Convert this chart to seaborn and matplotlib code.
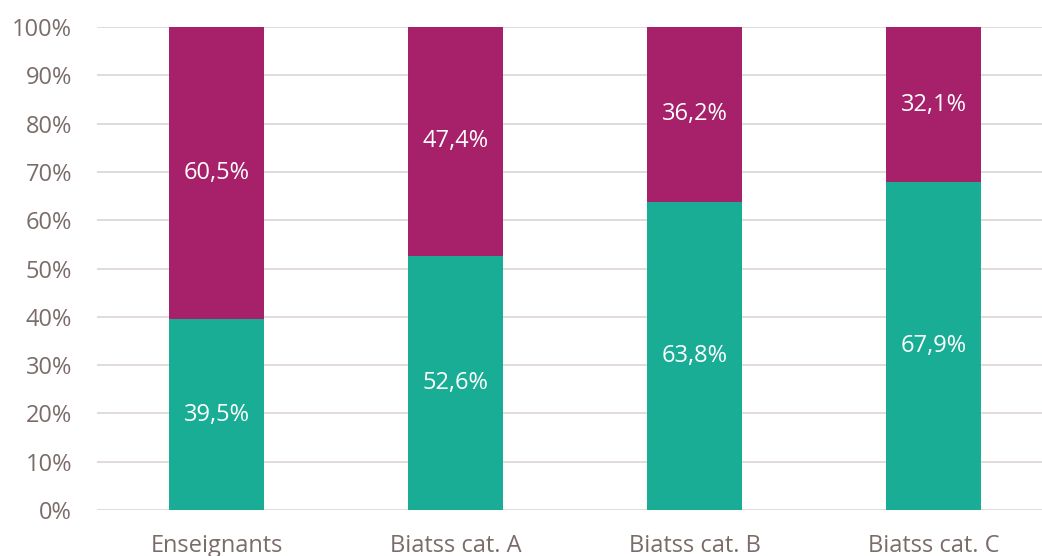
import numpy as np
import pandas as pd
import seaborn as sns
import matplotlib.pyplot as plt
from matplotlib.ticker import FuncFormatter, MultipleLocator

# données
categories = ["Enseignants", "Biatss cat. A", "Biatss cat. B", "Biatss cat. C"]
part_bas = [39.5, 52.6, 63.8, 67.9]    # vert
part_haut = [60.5, 47.4, 36.2, 32.1]   # magenta

vert = "#1aad96"
magenta = "#a6206a"
gris_texte = "#7a6d69"
gris_grille = "#dbd6d3"

sns.set_style("white")
plt.rcParams["font.family"] = ["Open Sans", "DejaVu Sans"]

df = pd.DataFrame({"cat": categories, "bas": part_bas, "haut": part_haut})
df["total"] = df["bas"] + df["haut"]

fig = plt.figure(figsize=(10.42, 5.56), dpi=100)
ax = fig.add_axes([97 / 1042, 1 - 510 / 556, (1042 - 97) / 1042, (510 - 27) / 556])

sns.barplot(data=df, x="cat", y="total", color=magenta, width=0.4,
            saturation=1, linewidth=0, ax=ax, zorder=3)
sns.barplot(data=df, x="cat", y="bas", color=vert, width=0.4,
            saturation=1, linewidth=0, ax=ax, zorder=3)

taille = 17
for i, (b, h) in enumerate(zip(part_bas, part_haut)):
    ax.text(i, b / 2, f"{b:.1f}%".replace(".", ","), ha="center", va="center",
            color="white", fontsize=taille, zorder=4)
    ax.text(i, b + h / 2, f"{h:.1f}%".replace(".", ","), ha="center", va="center",
            color="white", fontsize=taille, zorder=4)

ax.set_ylim(0, 100)
ax.set_xlim(-0.5, 3.454)
ax.yaxis.set_major_locator(MultipleLocator(10))
ax.yaxis.set_major_formatter(FuncFormatter(lambda v, p: f"{v:.0f}%"))
ax.grid(axis="y", color=gris_grille, linewidth=1.2, zorder=0)
ax.set_axisbelow(True)
for s in ax.spines.values():
    s.set_visible(False)
ax.set_xlabel("")
ax.set_ylabel("")
ax.tick_params(axis="both", length=0, colors=gris_texte, labelsize=taille)
ax.tick_params(axis="x", pad=17)
ax.tick_params(axis="y", pad=18)

fig.savefig("out.png", dpi=100)
